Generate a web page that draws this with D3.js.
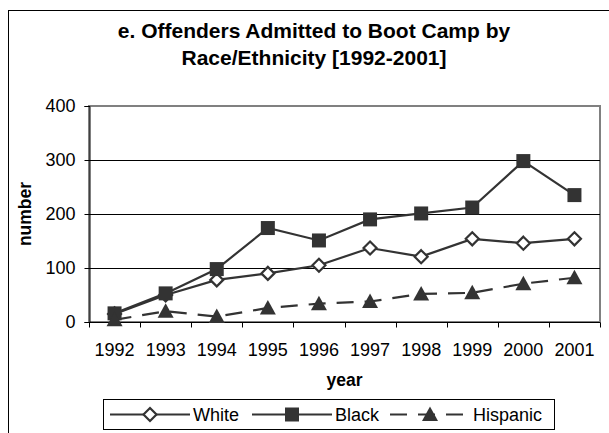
<!DOCTYPE html>
<html>
<head>
<meta charset="utf-8">
<script src="https://cdn.jsdelivr.net/npm/d3@7"></script>
<style>
  body { margin: 0; background: #fff; }
  svg { display: block; font-family: "Liberation Sans", Arial, sans-serif; }
</style>
</head>
<body>
<div id="chart"></div>
<script>
// data
const years = ["1992","1993","1994","1995","1996","1997","1998","1999","2000","2001"];
const white    = [15, 50, 78, 90, 105, 137, 121, 154, 146, 154];
const black    = [16, 53, 98, 174, 151, 190, 201, 212, 298, 235];
const hispanic = [4, 20, 10, 26, 34, 38, 52, 54, 71, 82];
const yTicks = [0, 100, 200, 300, 400];
const titleLines = ["e. Offenders Admitted to Boot Camp by", "Race/Ethnicity [1992-2001]"];

const W = 609, H = 433;
const plot = {left: 89, right: 600, top: 106, bottom: 322};
const ink = "#333333";

const svg = d3.select("#chart").append("svg")
    .attr("width", W)
    .attr("height", H);

svg.append("rect")
    .attr("width", W).attr("height", H)
    .attr("fill", "#fff");

// outer chart frame (runs off the right/bottom edge)
svg.append("rect")
    .attr("x", 8.5).attr("y", 10.5)
    .attr("width", 640).attr("height", 460)
    .attr("fill", "none")
    .attr("stroke", "#000");

// title
svg.append("g").selectAll("text")
  .data(titleLines)
  .join("text")
    .attr("x", 314)
    .attr("y", (d, i) => 37.5 + i * 27.5)
    .attr("text-anchor", "middle")
    .style("font-size", "21px")
    .style("font-weight", "bold")
    .text(d => d);

// scales
const x = d3.scaleBand()
    .domain(years)
    .range([plot.left, plot.right]);
const y = d3.scaleLinear()
    .domain([0, 400])
    .range([plot.bottom, plot.top]);

// plot area border (gray top/right)
svg.append("rect")
    .attr("x", plot.left).attr("y", plot.top)
    .attr("width", plot.right - plot.left)
    .attr("height", plot.bottom - plot.top)
    .attr("fill", "none")
    .attr("stroke", "#808080")
    .attr("stroke-width", 2);

// gridlines
svg.append("g").selectAll("line")
  .data([100, 200, 300])
  .join("line")
    .attr("x1", plot.left).attr("x2", plot.right)
    .attr("y1", d => Math.round(y(d)) + 0.5)
    .attr("y2", d => Math.round(y(d)) + 0.5)
    .attr("stroke", "#000");

// y axis
const yAxis = svg.append("g")
    .attr("transform", `translate(${plot.left + 0.5},0)`)
    .call(d3.axisLeft(y).tickValues(yTicks).tickSize(5).tickPadding(9));
yAxis.select(".domain").attr("stroke", "#000");
yAxis.selectAll("text").style("font-size", "18px").attr("fill", "#000").attr("font-family", null);

// x axis (labels at centres, ticks at category boundaries)
const xAxis = svg.append("g")
    .attr("transform", `translate(0,${plot.bottom + 0.5})`)
    .call(d3.axisBottom(x).tickSize(0).tickPadding(21));
xAxis.select(".domain").attr("d", `M${plot.left},0H${plot.right}`).attr("stroke", "#000");
xAxis.selectAll("text").style("font-size", "18px").attr("fill", "#000").attr("font-family", null);
xAxis.selectAll(".bound")
  .data(years.map(d => x(d)).concat([plot.right]))
  .join("line")
    .attr("class", "bound")
    .attr("x1", d => Math.round(d) + 0.5).attr("x2", d => Math.round(d) + 0.5)
    .attr("y1", 0).attr("y2", 5)
    .attr("stroke", "#000");

// axis titles
svg.append("text")
    .attr("transform", `translate(31,${(plot.top + plot.bottom) / 2}) rotate(-90)`)
    .attr("text-anchor", "middle")
    .style("font-size", "17.5px")
    .style("font-weight", "bold")
    .text("number");

svg.append("text")
    .attr("x", (plot.left + plot.right) / 2)
    .attr("y", 386)
    .attr("text-anchor", "middle")
    .style("font-size", "17.5px")
    .style("font-weight", "bold")
    .text("year");

// markers
const diamond = "M0,-6.5L6.5,0L0,6.5L-6.5,0Z";
const square = "M-7,-7H7V7H-7Z";
const triangle = "M0,-8L8,6.5H-8Z";

const series = [
  {name: "White", values: white, dash: null, marker: diamond, fill: "#fff"},
  {name: "Black", values: black, dash: null, marker: square, fill: ink},
  {name: "Hispanic", values: hispanic, dash: "17,11", marker: triangle, fill: ink}
];

const line = d3.line()
    .x((d, i) => x(years[i]) + x.bandwidth() / 2)
    .y(d => y(d));

series.forEach(s => {
  svg.append("path")
      .datum(s.values)
      .attr("d", line)
      .attr("fill", "none")
      .attr("stroke", ink)
      .attr("stroke-width", 2.2)
      .attr("stroke-dasharray", s.dash);
});

series.forEach(s => {
  svg.append("g").selectAll("path")
    .data(s.values)
    .join("path")
      .attr("transform", (d, i) => `translate(${x(years[i]) + x.bandwidth() / 2},${y(d)})`)
      .attr("d", s.marker)
      .attr("fill", s.fill)
      .attr("stroke", ink)
      .attr("stroke-width", s.fill === "#fff" ? 2.2 : 0);
});

// legend
svg.append("rect")
    .attr("x", 103.5).attr("y", 399.5)
    .attr("width", 451).attr("height", 30)
    .attr("fill", "#fff")
    .attr("stroke", "#000");

const legendX = [110, 252, 390];
const ly = 414.5;
series.forEach((s, i) => {
  const g = svg.append("g");
  g.append("line")
      .attr("x1", legendX[i]).attr("x2", legendX[i] + 80)
      .attr("y1", ly).attr("y2", ly)
      .attr("stroke", ink)
      .attr("stroke-width", 2.2)
      .attr("stroke-dasharray", s.dash);
  g.append("path")
      .attr("transform", `translate(${legendX[i] + 40},${ly})`)
      .attr("d", s.marker)
      .attr("fill", s.fill)
      .attr("stroke", ink)
      .attr("stroke-width", s.fill === "#fff" ? 2.2 : 0);
  g.append("text")
      .attr("x", legendX[i] + 83)
      .attr("y", 421)
      .style("font-size", "18px")
      .text(s.name);
});
</script>
</body>
</html>
